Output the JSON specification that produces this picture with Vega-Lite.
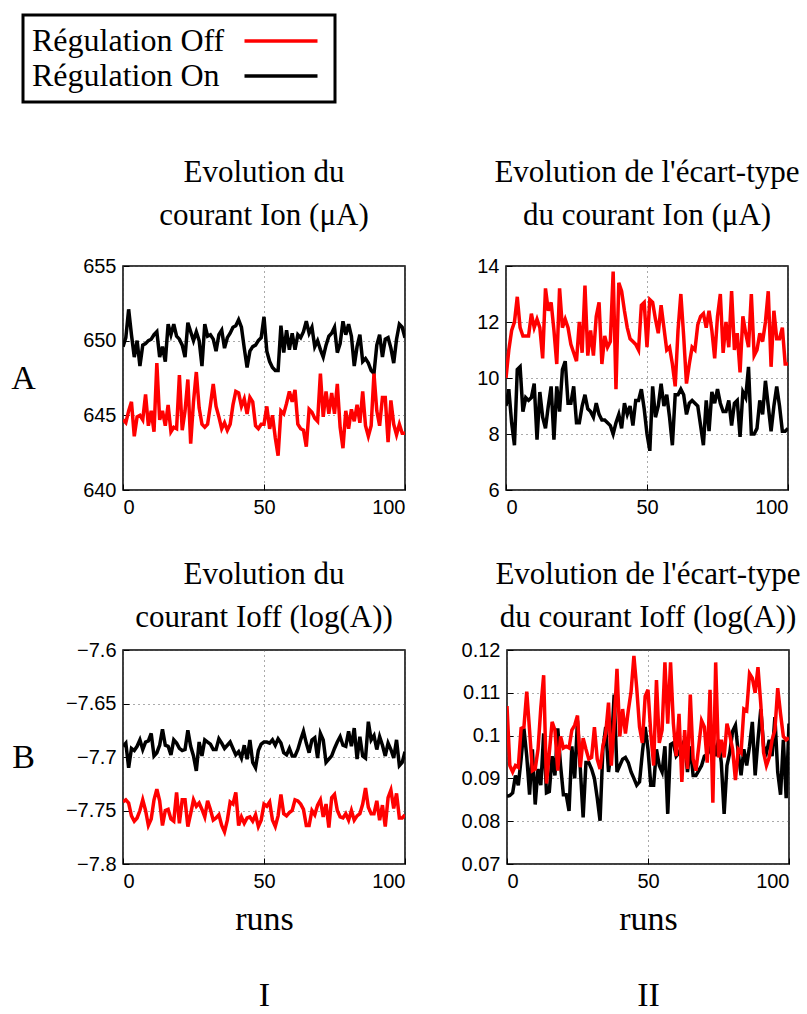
{
"$schema": "https://vega.github.io/schema/vega-lite/v6.json",
"background": "white",
"padding": {"left": 9, "top": 13, "right": 0, "bottom": 0},
"config": {
  "view": {"stroke": "black", "strokeWidth": 1.5},
  "font": "Liberation Serif",
  "axis": {"labelFont": "Liberation Sans", "labelFontSize": 20, "labelColor": "black", "labelPadding": 13, "domain": false, "ticks": true, "tickColor": "black", "tickSize": -6, "tickWidth": 1, "grid": true, "gridColor": "#555555", "gridDash": [1, 4], "gridWidth": 1, "titleFont": "Liberation Serif", "titleFontSize": 34, "titleFontWeight": "normal", "titleColor": "black"},
  "title": {"font": "Liberation Serif", "fontSize": 31, "fontWeight": "normal", "color": "black", "lineHeight": 43, "anchor": "middle", "offset": 24},
  "legend": {"orient": "none", "legendX": -100, "legendY": -251, "labelFont": "Liberation Serif", "labelFontSize": 32, "labelColor": "black", "labelLimit": 400, "strokeColor": "black", "strokeWidth": 3, "fillColor": "white", "padding": 10, "rowPadding": 3, "labelBaseline": "middle"}
},
"datasets": {"d": [
{"p":"A1","x":0,"Off":644.7,"On":649.6},{"p":"A1","x":1,"Off":644.5,"On":650.2},{"p":"A1","x":2,"Off":645.3,"On":652.1},{"p":"A1","x":3,"Off":645.9,"On":650.4},{"p":"A1","x":4,"Off":643.6,"On":648.9},{"p":"A1","x":5,"Off":644.9,"On":650.0},{"p":"A1","x":6,"Off":645.0,"On":648.3},{"p":"A1","x":7,"Off":644.7,"On":649.7},{"p":"A1","x":8,"Off":646.4,"On":649.8},{"p":"A1","x":9,"Off":644.3,"On":650.0},
{"p":"A1","x":10,"Off":645.3,"On":650.1},{"p":"A1","x":11,"Off":643.9,"On":650.4},{"p":"A1","x":12,"Off":648.5,"On":650.6},{"p":"A1","x":13,"Off":644.7,"On":648.9},{"p":"A1","x":14,"Off":645.3,"On":649.6},{"p":"A1","x":15,"Off":644.3,"On":648.6},{"p":"A1","x":16,"Off":645.7,"On":651.1},{"p":"A1","x":17,"Off":643.9,"On":650.4},{"p":"A1","x":18,"Off":644.2,"On":651.1},{"p":"A1","x":19,"Off":644.1,"On":650.3},
{"p":"A1","x":20,"Off":647.7,"On":650.1},{"p":"A1","x":21,"Off":644.0,"On":649.7},{"p":"A1","x":22,"Off":645.3,"On":648.9},{"p":"A1","x":23,"Off":647.4,"On":651.2},{"p":"A1","x":24,"Off":643.1,"On":650.6},{"p":"A1","x":25,"Off":645.9,"On":650.0},{"p":"A1","x":26,"Off":647.9,"On":650.6},{"p":"A1","x":27,"Off":645.5,"On":650.0},{"p":"A1","x":28,"Off":644.4,"On":648.3},{"p":"A1","x":29,"Off":644.2,"On":651.1},
{"p":"A1","x":30,"Off":644.4,"On":650.3},{"p":"A1","x":31,"Off":645.7,"On":650.4},{"p":"A1","x":32,"Off":647.1,"On":650.1},{"p":"A1","x":33,"Off":645.6,"On":649.3},{"p":"A1","x":34,"Off":644.9,"On":650.4},{"p":"A1","x":35,"Off":644.1,"On":650.7},{"p":"A1","x":36,"Off":644.5,"On":649.5},{"p":"A1","x":37,"Off":644.0,"On":650.2},{"p":"A1","x":38,"Off":644.4,"On":650.5},{"p":"A1","x":39,"Off":645.7,"On":650.9},
{"p":"A1","x":40,"Off":646.6,"On":651.0},{"p":"A1","x":41,"Off":646.5,"On":651.4},{"p":"A1","x":42,"Off":645.6,"On":650.9},{"p":"A1","x":43,"Off":646.1,"On":649.5},{"p":"A1","x":44,"Off":645.1,"On":648.2},{"p":"A1","x":45,"Off":646.2,"On":649.3},{"p":"A1","x":46,"Off":645.9,"On":649.6},{"p":"A1","x":47,"Off":644.3,"On":649.7},{"p":"A1","x":48,"Off":644.1,"On":650.0},{"p":"A1","x":49,"Off":644.4,"On":650.2},
{"p":"A1","x":50,"Off":644.4,"On":651.6},{"p":"A1","x":51,"Off":645.6,"On":649.3},{"p":"A1","x":52,"Off":644.1,"On":648.6},{"p":"A1","x":53,"Off":645.0,"On":648.2},{"p":"A1","x":54,"Off":643.5,"On":648.0},{"p":"A1","x":55,"Off":642.3,"On":648.0},{"p":"A1","x":56,"Off":645.3,"On":651.0},{"p":"A1","x":57,"Off":645.1,"On":649.2},{"p":"A1","x":58,"Off":645.8,"On":650.7},{"p":"A1","x":59,"Off":646.6,"On":649.4},
{"p":"A1","x":60,"Off":645.9,"On":650.5},{"p":"A1","x":61,"Off":646.7,"On":649.4},{"p":"A1","x":62,"Off":644.4,"On":650.4},{"p":"A1","x":63,"Off":644.1,"On":650.2},{"p":"A1","x":64,"Off":644.0,"On":650.6},{"p":"A1","x":65,"Off":642.9,"On":651.3},{"p":"A1","x":66,"Off":645.4,"On":650.5},{"p":"A1","x":67,"Off":645.2,"On":650.9},{"p":"A1","x":68,"Off":644.8,"On":649.6},{"p":"A1","x":69,"Off":644.6,"On":650.0},
{"p":"A1","x":70,"Off":647.8,"On":649.4},{"p":"A1","x":71,"Off":644.9,"On":648.9},{"p":"A1","x":72,"Off":646.6,"On":649.7},{"p":"A1","x":73,"Off":645.1,"On":650.3},{"p":"A1","x":74,"Off":646.5,"On":650.5},{"p":"A1","x":75,"Off":645.1,"On":650.9},{"p":"A1","x":76,"Off":647.1,"On":649.2},{"p":"A1","x":77,"Off":644.2,"On":649.8},{"p":"A1","x":78,"Off":642.8,"On":651.3},{"p":"A1","x":79,"Off":645.3,"On":650.4},
{"p":"A1","x":80,"Off":644.1,"On":651.1},{"p":"A1","x":81,"Off":645.4,"On":650.3},{"p":"A1","x":82,"Off":644.6,"On":648.3},{"p":"A1","x":83,"Off":645.7,"On":649.6},{"p":"A1","x":84,"Off":644.5,"On":650.4},{"p":"A1","x":85,"Off":646.6,"On":648.6},{"p":"A1","x":86,"Off":644.3,"On":648.8},{"p":"A1","x":87,"Off":643.6,"On":648.5},{"p":"A1","x":88,"Off":644.3,"On":648.0},{"p":"A1","x":89,"Off":647.8,"On":647.8},
{"p":"A1","x":90,"Off":645.3,"On":649.7},{"p":"A1","x":91,"Off":644.3,"On":650.4},{"p":"A1","x":92,"Off":646.2,"On":648.9},{"p":"A1","x":93,"Off":646.2,"On":650.1},{"p":"A1","x":94,"Off":643.2,"On":650.2},{"p":"A1","x":95,"Off":646.0,"On":649.5},{"p":"A1","x":96,"Off":644.4,"On":648.5},{"p":"A1","x":97,"Off":643.7,"On":650.1},{"p":"A1","x":98,"Off":644.4,"On":651.1},{"p":"A1","x":99,"Off":643.8,"On":650.9},{"p":"A1","x":100,"Off":643.8,"On":650.2},
{"p":"A2","x":0,"Off":10.0,"On":9.0},{"p":"A2","x":1,"Off":11.0,"On":9.6},{"p":"A2","x":2,"Off":11.7,"On":8.4},{"p":"A2","x":3,"Off":12.0,"On":7.6},{"p":"A2","x":4,"Off":12.9,"On":10.3},{"p":"A2","x":5,"Off":11.8,"On":10.4},{"p":"A2","x":6,"Off":11.5,"On":8.8},{"p":"A2","x":7,"Off":11.5,"On":9.3},{"p":"A2","x":8,"Off":11.5,"On":9.2},{"p":"A2","x":9,"Off":12.3,"On":9.3},
{"p":"A2","x":10,"Off":11.8,"On":9.8},{"p":"A2","x":11,"Off":12.1,"On":7.8},{"p":"A2","x":12,"Off":11.8,"On":9.5},{"p":"A2","x":13,"Off":10.7,"On":8.6},{"p":"A2","x":14,"Off":13.2,"On":8.2},{"p":"A2","x":15,"Off":12.4,"On":9.0},{"p":"A2","x":16,"Off":12.7,"On":9.7},{"p":"A2","x":17,"Off":11.7,"On":7.8},{"p":"A2","x":18,"Off":10.5,"On":9.7},{"p":"A2","x":19,"Off":13.2,"On":8.8},
{"p":"A2","x":20,"Off":11.8,"On":10.3},{"p":"A2","x":21,"Off":12.1,"On":10.6},{"p":"A2","x":22,"Off":11.8,"On":9.1},{"p":"A2","x":23,"Off":11.2,"On":9.1},{"p":"A2","x":24,"Off":10.9,"On":9.7},{"p":"A2","x":25,"Off":10.6,"On":8.4},{"p":"A2","x":26,"Off":12.0,"On":8.4},{"p":"A2","x":27,"Off":10.9,"On":9.0},{"p":"A2","x":28,"Off":13.3,"On":9.4},{"p":"A2","x":29,"Off":10.8,"On":8.9},
{"p":"A2","x":30,"Off":11.7,"On":8.8},{"p":"A2","x":31,"Off":10.8,"On":8.6},{"p":"A2","x":32,"Off":12.2,"On":9.1},{"p":"A2","x":33,"Off":12.7,"On":8.7},{"p":"A2","x":34,"Off":10.5,"On":8.5},{"p":"A2","x":35,"Off":11.5,"On":8.5},{"p":"A2","x":36,"Off":11.1,"On":8.4},{"p":"A2","x":37,"Off":11.3,"On":8.3},{"p":"A2","x":38,"Off":13.8,"On":8.0},{"p":"A2","x":39,"Off":9.6,"On":8.4},
{"p":"A2","x":40,"Off":13.4,"On":8.7},{"p":"A2","x":41,"Off":13.1,"On":8.2},{"p":"A2","x":42,"Off":12.4,"On":9.1},{"p":"A2","x":43,"Off":11.8,"On":8.7},{"p":"A2","x":44,"Off":11.4,"On":9.0},{"p":"A2","x":45,"Off":11.3,"On":8.3},{"p":"A2","x":46,"Off":11.2,"On":9.2},{"p":"A2","x":47,"Off":11.0,"On":9.2},{"p":"A2","x":48,"Off":12.6,"On":9.6},{"p":"A2","x":49,"Off":12.7,"On":8.9},
{"p":"A2","x":50,"Off":11.1,"On":8.0},{"p":"A2","x":51,"Off":12.8,"On":7.4},{"p":"A2","x":52,"Off":12.7,"On":9.7},{"p":"A2","x":53,"Off":12.1,"On":8.6},{"p":"A2","x":54,"Off":11.6,"On":9.0},{"p":"A2","x":55,"Off":12.6,"On":9.8},{"p":"A2","x":56,"Off":11.8,"On":9.0},{"p":"A2","x":57,"Off":11.0,"On":9.4},{"p":"A2","x":58,"Off":11.1,"On":8.6},{"p":"A2","x":59,"Off":10.5,"On":7.6},
{"p":"A2","x":60,"Off":9.7,"On":9.4},{"p":"A2","x":61,"Off":11.7,"On":9.4},{"p":"A2","x":62,"Off":13.0,"On":9.6},{"p":"A2","x":63,"Off":11.5,"On":9.4},{"p":"A2","x":64,"Off":9.8,"On":8.7},{"p":"A2","x":65,"Off":10.5,"On":9.1},{"p":"A2","x":66,"Off":11.1,"On":9.2},{"p":"A2","x":67,"Off":11.0,"On":9.1},{"p":"A2","x":68,"Off":11.9,"On":9.0},{"p":"A2","x":69,"Off":12.2,"On":8.3},
{"p":"A2","x":70,"Off":12.3,"On":7.6},{"p":"A2","x":71,"Off":11.8,"On":9.2},{"p":"A2","x":72,"Off":12.4,"On":8.1},{"p":"A2","x":73,"Off":11.7,"On":9.5},{"p":"A2","x":74,"Off":10.7,"On":9.1},{"p":"A2","x":75,"Off":12.2,"On":9.6},{"p":"A2","x":76,"Off":13.0,"On":9.1},{"p":"A2","x":77,"Off":10.9,"On":8.8},{"p":"A2","x":78,"Off":12.0,"On":8.8},{"p":"A2","x":79,"Off":11.1,"On":9.2},
{"p":"A2","x":80,"Off":13.1,"On":8.3},{"p":"A2","x":81,"Off":11.0,"On":9.1},{"p":"A2","x":82,"Off":11.6,"On":9.2},{"p":"A2","x":83,"Off":10.2,"On":7.9},{"p":"A2","x":84,"Off":12.2,"On":9.5},{"p":"A2","x":85,"Off":11.6,"On":9.3},{"p":"A2","x":86,"Off":11.1,"On":10.4},{"p":"A2","x":87,"Off":13.0,"On":8.0},{"p":"A2","x":88,"Off":10.8,"On":8.0},{"p":"A2","x":89,"Off":11.0,"On":8.2},
{"p":"A2","x":90,"Off":11.6,"On":9.2},{"p":"A2","x":91,"Off":11.3,"On":8.7},{"p":"A2","x":92,"Off":12.0,"On":9.9},{"p":"A2","x":93,"Off":13.1,"On":9.0},{"p":"A2","x":94,"Off":10.4,"On":8.1},{"p":"A2","x":95,"Off":12.4,"On":9.0},{"p":"A2","x":96,"Off":11.4,"On":9.7},{"p":"A2","x":97,"Off":11.4,"On":9.0},{"p":"A2","x":98,"Off":11.8,"On":8.1},{"p":"A2","x":99,"Off":10.5,"On":8.1},{"p":"A2","x":100,"Off":10.5,"On":8.2},
{"p":"B1","x":0,"Off":-7.742,"On":-7.690},{"p":"B1","x":1,"Off":-7.740,"On":-7.687},{"p":"B1","x":2,"Off":-7.743,"On":-7.710},{"p":"B1","x":3,"Off":-7.755,"On":-7.692},{"p":"B1","x":4,"Off":-7.760,"On":-7.694},{"p":"B1","x":5,"Off":-7.757,"On":-7.690},{"p":"B1","x":6,"Off":-7.750,"On":-7.684},{"p":"B1","x":7,"Off":-7.740,"On":-7.693},{"p":"B1","x":8,"Off":-7.750,"On":-7.686},{"p":"B1","x":9,"Off":-7.764,"On":-7.685},
{"p":"B1","x":10,"Off":-7.758,"On":-7.678},{"p":"B1","x":11,"Off":-7.740,"On":-7.699},{"p":"B1","x":12,"Off":-7.730,"On":-7.696},{"p":"B1","x":13,"Off":-7.741,"On":-7.689},{"p":"B1","x":14,"Off":-7.764,"On":-7.674},{"p":"B1","x":15,"Off":-7.750,"On":-7.689},{"p":"B1","x":16,"Off":-7.749,"On":-7.690},{"p":"B1","x":17,"Off":-7.758,"On":-7.698},{"p":"B1","x":18,"Off":-7.760,"On":-7.684},{"p":"B1","x":19,"Off":-7.733,"On":-7.687},
{"p":"B1","x":20,"Off":-7.762,"On":-7.692},{"p":"B1","x":21,"Off":-7.740,"On":-7.694},{"p":"B1","x":22,"Off":-7.740,"On":-7.693},{"p":"B1","x":23,"Off":-7.765,"On":-7.675},{"p":"B1","x":24,"Off":-7.753,"On":-7.690},{"p":"B1","x":25,"Off":-7.740,"On":-7.699},{"p":"B1","x":26,"Off":-7.746,"On":-7.713},{"p":"B1","x":27,"Off":-7.743,"On":-7.686},{"p":"B1","x":28,"Off":-7.749,"On":-7.699},{"p":"B1","x":29,"Off":-7.756,"On":-7.684},
{"p":"B1","x":30,"Off":-7.741,"On":-7.686},{"p":"B1","x":31,"Off":-7.749,"On":-7.688},{"p":"B1","x":32,"Off":-7.759,"On":-7.693},{"p":"B1","x":33,"Off":-7.757,"On":-7.693},{"p":"B1","x":34,"Off":-7.754,"On":-7.683},{"p":"B1","x":35,"Off":-7.764,"On":-7.687},{"p":"B1","x":36,"Off":-7.770,"On":-7.692},{"p":"B1","x":37,"Off":-7.759,"On":-7.689},{"p":"B1","x":38,"Off":-7.742,"On":-7.686},{"p":"B1","x":39,"Off":-7.744,"On":-7.692},
{"p":"B1","x":40,"Off":-7.733,"On":-7.698},{"p":"B1","x":41,"Off":-7.764,"On":-7.695},{"p":"B1","x":42,"Off":-7.756,"On":-7.701},{"p":"B1","x":43,"Off":-7.762,"On":-7.689},{"p":"B1","x":44,"Off":-7.757,"On":-7.702},{"p":"B1","x":45,"Off":-7.756,"On":-7.684},{"p":"B1","x":46,"Off":-7.760,"On":-7.705},{"p":"B1","x":47,"Off":-7.754,"On":-7.710},{"p":"B1","x":48,"Off":-7.765,"On":-7.694},{"p":"B1","x":49,"Off":-7.759,"On":-7.688},
{"p":"B1","x":50,"Off":-7.744,"On":-7.686},{"p":"B1","x":51,"Off":-7.746,"On":-7.686},{"p":"B1","x":52,"Off":-7.742,"On":-7.687},{"p":"B1","x":53,"Off":-7.759,"On":-7.684},{"p":"B1","x":54,"Off":-7.765,"On":-7.689},{"p":"B1","x":55,"Off":-7.755,"On":-7.683},{"p":"B1","x":56,"Off":-7.735,"On":-7.687},{"p":"B1","x":57,"Off":-7.753,"On":-7.696},{"p":"B1","x":58,"Off":-7.755,"On":-7.698},{"p":"B1","x":59,"Off":-7.752,"On":-7.692},
{"p":"B1","x":60,"Off":-7.750,"On":-7.699},{"p":"B1","x":61,"Off":-7.740,"On":-7.699},{"p":"B1","x":62,"Off":-7.741,"On":-7.693},{"p":"B1","x":63,"Off":-7.744,"On":-7.684},{"p":"B1","x":64,"Off":-7.749,"On":-7.676},{"p":"B1","x":65,"Off":-7.764,"On":-7.687},{"p":"B1","x":66,"Off":-7.764,"On":-7.696},{"p":"B1","x":67,"Off":-7.750,"On":-7.684},{"p":"B1","x":68,"Off":-7.754,"On":-7.682},{"p":"B1","x":69,"Off":-7.745,"On":-7.701},
{"p":"B1","x":70,"Off":-7.740,"On":-7.678},{"p":"B1","x":71,"Off":-7.756,"On":-7.684},{"p":"B1","x":72,"Off":-7.744,"On":-7.705},{"p":"B1","x":73,"Off":-7.766,"On":-7.702},{"p":"B1","x":74,"Off":-7.738,"On":-7.699},{"p":"B1","x":75,"Off":-7.735,"On":-7.692},{"p":"B1","x":76,"Off":-7.750,"On":-7.686},{"p":"B1","x":77,"Off":-7.756,"On":-7.681},{"p":"B1","x":78,"Off":-7.757,"On":-7.689},{"p":"B1","x":79,"Off":-7.753,"On":-7.690},
{"p":"B1","x":80,"Off":-7.759,"On":-7.676},{"p":"B1","x":81,"Off":-7.750,"On":-7.690},{"p":"B1","x":82,"Off":-7.759,"On":-7.673},{"p":"B1","x":83,"Off":-7.755,"On":-7.702},{"p":"B1","x":84,"Off":-7.753,"On":-7.681},{"p":"B1","x":85,"Off":-7.744,"On":-7.699},{"p":"B1","x":86,"Off":-7.729,"On":-7.701},{"p":"B1","x":87,"Off":-7.747,"On":-7.667},{"p":"B1","x":88,"Off":-7.753,"On":-7.684},{"p":"B1","x":89,"Off":-7.753,"On":-7.680},
{"p":"B1","x":90,"Off":-7.741,"On":-7.693},{"p":"B1","x":91,"Off":-7.759,"On":-7.681},{"p":"B1","x":92,"Off":-7.745,"On":-7.689},{"p":"B1","x":93,"Off":-7.765,"On":-7.699},{"p":"B1","x":94,"Off":-7.738,"On":-7.687},{"p":"B1","x":95,"Off":-7.731,"On":-7.693},{"p":"B1","x":96,"Off":-7.748,"On":-7.701},{"p":"B1","x":97,"Off":-7.734,"On":-7.684},{"p":"B1","x":98,"Off":-7.757,"On":-7.708},{"p":"B1","x":99,"Off":-7.757,"On":-7.705},{"p":"B1","x":100,"Off":-7.754,"On":-7.695},
{"p":"B2","x":0,"Off":0.1069,"On":0.0858},{"p":"B2","x":1,"Off":0.0930,"On":0.0860},{"p":"B2","x":2,"Off":0.0915,"On":0.0866},{"p":"B2","x":3,"Off":0.0930,"On":0.0907},{"p":"B2","x":4,"Off":0.0926,"On":0.0884},{"p":"B2","x":5,"Off":0.1017,"On":0.0945},{"p":"B2","x":6,"Off":0.1020,"On":0.1017},{"p":"B2","x":7,"Off":0.1103,"On":0.0952},{"p":"B2","x":8,"Off":0.1013,"On":0.0862},{"p":"B2","x":9,"Off":0.0918,"On":0.0968},
{"p":"B2","x":10,"Off":0.0922,"On":0.0839},{"p":"B2","x":11,"Off":0.0968,"On":0.0922},{"p":"B2","x":12,"Off":0.1066,"On":0.0884},{"p":"B2","x":13,"Off":0.1141,"On":0.1005},{"p":"B2","x":14,"Off":0.0888,"On":0.0866},{"p":"B2","x":15,"Off":0.0960,"On":0.0869},{"p":"B2","x":16,"Off":0.1032,"On":0.0952},{"p":"B2","x":17,"Off":0.1013,"On":0.0907},{"p":"B2","x":18,"Off":0.0918,"On":0.1017},{"p":"B2","x":19,"Off":0.0998,"On":0.0930},
{"p":"B2","x":20,"Off":0.0971,"On":0.0862},{"p":"B2","x":21,"Off":0.0975,"On":0.0862},{"p":"B2","x":22,"Off":0.0971,"On":0.0824},{"p":"B2","x":23,"Off":0.1013,"On":0.0975},{"p":"B2","x":24,"Off":0.1024,"On":0.0900},{"p":"B2","x":25,"Off":0.1047,"On":0.1035},{"p":"B2","x":26,"Off":0.0926,"On":0.0922},{"p":"B2","x":27,"Off":0.0994,"On":0.0809},{"p":"B2","x":28,"Off":0.0968,"On":0.0937},{"p":"B2","x":29,"Off":0.0945,"On":0.0937},
{"p":"B2","x":30,"Off":0.0949,"On":0.0922},{"p":"B2","x":31,"Off":0.1020,"On":0.0900},{"p":"B2","x":32,"Off":0.0945,"On":0.0854},{"p":"B2","x":33,"Off":0.0922,"On":0.0801},{"p":"B2","x":34,"Off":0.0975,"On":0.0968},{"p":"B2","x":35,"Off":0.1005,"On":0.1020},{"p":"B2","x":36,"Off":0.1077,"On":0.0915},{"p":"B2","x":37,"Off":0.0930,"On":0.0968},{"p":"B2","x":38,"Off":0.1028,"On":0.1096},{"p":"B2","x":39,"Off":0.1156,"On":0.0915},
{"p":"B2","x":40,"Off":0.0998,"On":0.0930},{"p":"B2","x":41,"Off":0.1062,"On":0.0945},{"p":"B2","x":42,"Off":0.1005,"On":0.0949},{"p":"B2","x":43,"Off":0.1058,"On":0.0937},{"p":"B2","x":44,"Off":0.1103,"On":0.0915},{"p":"B2","x":45,"Off":0.1186,"On":0.0900},{"p":"B2","x":46,"Off":0.1111,"On":0.0884},{"p":"B2","x":47,"Off":0.1020,"On":0.0892},{"p":"B2","x":48,"Off":0.0983,"On":0.0960},{"p":"B2","x":49,"Off":0.1092,"On":0.1020},
{"p":"B2","x":50,"Off":0.1107,"On":0.0968},{"p":"B2","x":51,"Off":0.1005,"On":0.0884},{"p":"B2","x":52,"Off":0.0930,"On":0.0884},{"p":"B2","x":53,"Off":0.1130,"On":0.0968},{"p":"B2","x":54,"Off":0.0983,"On":0.0930},{"p":"B2","x":55,"Off":0.1013,"On":0.0915},{"p":"B2","x":56,"Off":0.1171,"On":0.0975},{"p":"B2","x":57,"Off":0.1028,"On":0.0817},{"p":"B2","x":58,"Off":0.1171,"On":0.0979},{"p":"B2","x":59,"Off":0.1028,"On":0.0983},
{"p":"B2","x":60,"Off":0.0952,"On":0.0952},{"p":"B2","x":61,"Off":0.1051,"On":0.0960},{"p":"B2","x":62,"Off":0.0892,"On":0.0975},{"p":"B2","x":63,"Off":0.1013,"On":0.0990},{"p":"B2","x":64,"Off":0.0922,"On":0.0915},{"p":"B2","x":65,"Off":0.1096,"On":0.0975},{"p":"B2","x":66,"Off":0.0945,"On":0.0907},{"p":"B2","x":67,"Off":0.0918,"On":0.0907},{"p":"B2","x":68,"Off":0.0975,"On":0.0918},{"p":"B2","x":69,"Off":0.1035,"On":0.0930},
{"p":"B2","x":70,"Off":0.1020,"On":0.0952},{"p":"B2","x":71,"Off":0.0937,"On":0.0956},{"p":"B2","x":72,"Off":0.1107,"On":0.0968},{"p":"B2","x":73,"Off":0.0843,"On":0.0990},{"p":"B2","x":74,"Off":0.1171,"On":0.0952},{"p":"B2","x":75,"Off":0.0949,"On":0.0990},{"p":"B2","x":76,"Off":0.0990,"On":0.0937},{"p":"B2","x":77,"Off":0.0949,"On":0.0817},{"p":"B2","x":78,"Off":0.1028,"On":0.0930},{"p":"B2","x":79,"Off":0.1002,"On":0.0960},
{"p":"B2","x":80,"Off":0.0968,"On":0.1010},{"p":"B2","x":81,"Off":0.0896,"On":0.1024},{"p":"B2","x":82,"Off":0.0968,"On":0.0960},{"p":"B2","x":83,"Off":0.0960,"On":0.0907},{"p":"B2","x":84,"Off":0.1062,"On":0.0968},{"p":"B2","x":85,"Off":0.1058,"On":0.0930},{"p":"B2","x":86,"Off":0.1145,"On":0.0975},{"p":"B2","x":87,"Off":0.1134,"On":0.1032},{"p":"B2","x":88,"Off":0.1100,"On":0.0907},{"p":"B2","x":89,"Off":0.1160,"On":0.0990},
{"p":"B2","x":90,"Off":0.1073,"On":0.1062},{"p":"B2","x":91,"Off":0.0960,"On":0.0975},{"p":"B2","x":92,"Off":0.0930,"On":0.0960},{"p":"B2","x":93,"Off":0.0949,"On":0.0990},{"p":"B2","x":94,"Off":0.0990,"On":0.0952},{"p":"B2","x":95,"Off":0.1013,"On":0.1043},{"p":"B2","x":96,"Off":0.1111,"On":0.0915},{"p":"B2","x":97,"Off":0.1051,"On":0.0862},{"p":"B2","x":98,"Off":0.0998,"On":0.0990},{"p":"B2","x":99,"Off":0.0990,"On":0.0854},{"p":"B2","x":100,"Off":0.0995,"On":0.1028}
]},
"spacing": 40,
"vconcat": [
 {"spacing": 69, "hconcat": [
  {"width": 282, "height": 224, "data": {"name": "d"},
   "transform": [{"filter": "datum.p == 'A1'"}, {"fold": ["On", "Off"], "as": ["s", "y"]}],
   "title": {"text": ["Evolution du", "courant Ion (μA)"]},
   "mark": {"type": "line", "strokeWidth": 3.5, "clip": true},
   "encoding": {
    "x": {"field": "x", "type": "quantitative", "scale": {"domain": [0, 100], "nice": false}, "axis": {"values": [0, 50, 100], "format": "d", "title": null}},
    "y": {"field": "y", "type": "quantitative", "scale": {"domain": [640, 655], "nice": false, "zero": false}, "axis": {"values": [640, 645, 650, 655], "format": "d", "title": "A", "titleAngle": 0, "titleX": -100, "titleY": 112, "titleAlign": "center", "titleBaseline": "middle"}},
    "color": {"field": "s", "type": "nominal", "scale": {"domain": ["Off", "On"], "range": ["#ff0000", "#000000"]}, "legend": {"title": null, "labelExpr": "'Régulation ' + datum.label", "symbolType": "M-4,0H4", "symbolSize": 333, "symbolStrokeWidth": 3.5, "symbolOffset": 232, "labelOffset": -265}}
   }},
  {"width": 282, "height": 224, "data": {"name": "d"},
   "transform": [{"filter": "datum.p == 'A2'"}, {"fold": ["On", "Off"], "as": ["s", "y"]}],
   "title": {"text": ["Evolution de l'écart-type", "du courant Ion (μA)"]},
   "mark": {"type": "line", "strokeWidth": 3.5, "clip": true},
   "encoding": {
    "x": {"field": "x", "type": "quantitative", "scale": {"domain": [0, 100], "nice": false}, "axis": {"values": [0, 50, 100], "format": "d", "title": null}},
    "y": {"field": "y", "type": "quantitative", "scale": {"domain": [6, 14], "nice": false, "zero": false}, "axis": {"values": [6, 8, 10, 12, 14], "format": "d", "title": null}},
    "color": {"field": "s", "type": "nominal", "scale": {"domain": ["Off", "On"], "range": ["#ff0000", "#000000"]}, "legend": {"title": null, "labelExpr": "'Régulation ' + datum.label", "symbolType": "M-4,0H4", "symbolSize": 333, "symbolStrokeWidth": 3.5, "symbolOffset": 232, "labelOffset": -265}}
   }}
 ]},
 {"spacing": 53, "hconcat": [
  {"width": 282, "height": 214, "data": {"name": "d"},
   "transform": [{"filter": "datum.p == 'B1'"}, {"fold": ["On", "Off"], "as": ["s", "y"]}],
   "title": {"text": ["Evolution du", "courant Ioff (log(A))"], "offset": 6},
   "mark": {"type": "line", "strokeWidth": 3.5, "clip": true},
   "encoding": {
    "x": {"field": "x", "type": "quantitative", "scale": {"domain": [0, 100], "nice": false}, "axis": {"values": [0, 50, 100], "format": "d", "title": ["runs", "I"], "titleLineHeight": 76, "titleY": 38, "titleBaseline": "top"}},
    "y": {"field": "y", "type": "quantitative", "scale": {"domain": [-7.8, -7.6], "nice": false, "zero": false}, "axis": {"values": [-7.8, -7.75, -7.7, -7.65, -7.6], "format": "~g", "title": "B", "titleAngle": 0, "titleX": -100, "titleY": 107, "titleAlign": "center", "titleBaseline": "middle"}},
    "color": {"field": "s", "type": "nominal", "scale": {"domain": ["Off", "On"], "range": ["#ff0000", "#000000"]}, "legend": {"title": null, "labelExpr": "'Régulation ' + datum.label", "symbolType": "M-4,0H4", "symbolSize": 333, "symbolStrokeWidth": 3.5, "symbolOffset": 232, "labelOffset": -265}}
   }},
  {"width": 282, "height": 214, "data": {"name": "d"},
   "transform": [{"filter": "datum.p == 'B2'"}, {"fold": ["On", "Off"], "as": ["s", "y"]}],
   "title": {"text": ["Evolution de l'écart-type", "du courant Ioff  (log(A))"], "offset": 6},
   "mark": {"type": "line", "strokeWidth": 3.5, "clip": true},
   "encoding": {
    "x": {"field": "x", "type": "quantitative", "scale": {"domain": [0, 100], "nice": false}, "axis": {"values": [0, 50, 100], "format": "d", "title": ["runs", "II"], "titleLineHeight": 76, "titleY": 38, "titleBaseline": "top"}},
    "y": {"field": "y", "type": "quantitative", "scale": {"domain": [0.07, 0.12], "nice": false, "zero": false}, "axis": {"values": [0.07, 0.08, 0.09, 0.1, 0.11, 0.12], "format": "~g", "title": null}},
    "color": {"field": "s", "type": "nominal", "scale": {"domain": ["Off", "On"], "range": ["#ff0000", "#000000"]}, "legend": {"title": null, "labelExpr": "'Régulation ' + datum.label", "symbolType": "M-4,0H4", "symbolSize": 333, "symbolStrokeWidth": 3.5, "symbolOffset": 232, "labelOffset": -265}}
   }}
 ]}
]
}
